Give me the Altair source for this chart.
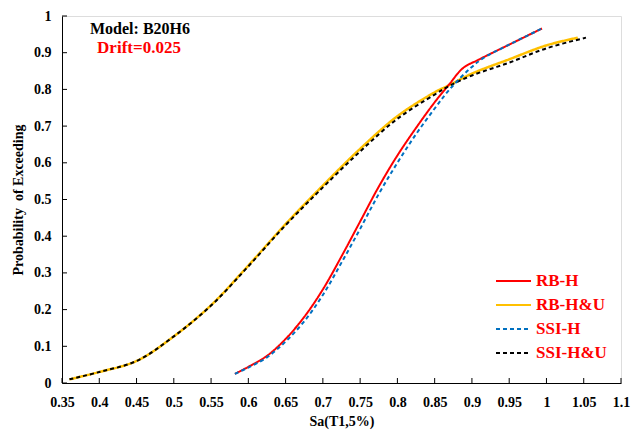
import altair as alt
import pandas as pd

series_names = ["RB-H", "RB-H&U", "SSI-H", "SSI-H&U"]
series_colors = ["#FF0000", "#FFC000", "#0070C0", "#000000"]
series_dashes = [[1, 0], [1, 0], [4, 3], [4, 3]]

rbh_x = [0.582, 0.6, 0.625, 0.65, 0.675, 0.7, 0.725, 0.75, 0.775, 0.8, 0.825, 0.85, 0.87, 0.888, 0.91, 0.95, 0.994]
rbh_p = [0.025, 0.044, 0.074, 0.12, 0.18, 0.255, 0.345, 0.44, 0.535, 0.62, 0.695, 0.765, 0.815, 0.858, 0.882, 0.922, 0.966]

ssih_x = [0.582, 0.6, 0.625, 0.65, 0.675, 0.7, 0.725, 0.75, 0.775, 0.8, 0.825, 0.85, 0.87, 0.897, 0.915, 0.95, 0.994]
ssih_p = [0.025, 0.042, 0.07, 0.113, 0.168, 0.24, 0.328, 0.42, 0.515, 0.60, 0.678, 0.748, 0.80, 0.856, 0.885, 0.922, 0.966]

rbhu_x = [0.36, 0.4, 0.45, 0.5, 0.55, 0.6, 0.65, 0.7, 0.75, 0.8, 0.85, 0.87, 0.9, 0.95, 1.0, 1.042]
rbhu_p = [0.01, 0.03, 0.06, 0.127, 0.212, 0.32, 0.433, 0.538, 0.638, 0.727, 0.792, 0.812, 0.843, 0.882, 0.92, 0.941]

ssihu_x = [0.36, 0.4, 0.45, 0.5, 0.55, 0.6, 0.65, 0.7, 0.75, 0.8, 0.85, 0.87, 0.9, 0.95, 1.0, 1.053]
ssihu_p = [0.01, 0.03, 0.06, 0.127, 0.211, 0.318, 0.43, 0.533, 0.631, 0.72, 0.786, 0.81, 0.838, 0.873, 0.912, 0.941]

x_ticks = [0.35, 0.4, 0.45, 0.5, 0.55, 0.6, 0.65, 0.7, 0.75, 0.8, 0.85, 0.9, 0.95, 1.0, 1.05, 1.1]
y_ticks = [0, 0.1, 0.2, 0.3, 0.4, 0.5, 0.6, 0.7, 0.8, 0.9, 1.0]

model_title = "Model: B20H6"
drift_label = "Drift=0.025"
x_title = "Sa(T1,5%)"
y_title = "Probability\u00a0\u00a0of Exceeding"

FONT = "Liberation Serif"

rows = []
for name, xs, ps in [("RB-H", rbh_x, rbh_p), ("RB-H&U", rbhu_x, rbhu_p),
                     ("SSI-H", ssih_x, ssih_p), ("SSI-H&U", ssihu_x, ssihu_p)]:
    for i, (a, b) in enumerate(zip(xs, ps)):
        rows.append({"series": name, "sa": a, "p": b, "i": i})
df = pd.DataFrame(rows)

xscale = alt.Scale(domain=[0.35, 1.1], nice=False, zero=False)
yscale = alt.Scale(domain=[0, 1], nice=False)
xaxis = alt.Axis(title=x_title, values=x_ticks, format="~g", ticks=False,
                 grid=False, domainColor="#000000", labelFont=FONT,
                 labelFontSize=14, labelFontWeight="bold", labelColor="#000000",
                 labelPadding=12, titleFont=FONT, titleFontSize=14,
                 titleFontWeight="bold", titleColor="#000000", titlePadding=5,
                 labelFlush=False)
yaxis = alt.Axis(title=y_title, values=y_ticks, format="~g", ticks=False,
                 grid=False, domainColor="#000000", labelFont=FONT,
                 labelFontSize=14, labelFontWeight="bold", labelColor="#000000",
                 labelPadding=11, titleFont=FONT, titleFontSize=14,
                 titleFontWeight="bold", titleColor="#000000", titlePadding=8)
color = alt.Color("series:N", scale=alt.Scale(domain=series_names, range=series_colors),
                  legend=alt.Legend(title=None, orient="none", legendX=433, legendY=254,
                                    symbolType="M-1,0L2.5,0", symbolSize=400, symbolStrokeWidth=2,
                                    labelFont=FONT, labelFontSize=17, labelFontWeight="bold",
                                    labelColor="#FF0000", labelOffset=19, rowPadding=5))
dash = alt.StrokeDash("series:N", scale=alt.Scale(domain=series_names, range=series_dashes),
                      legend=None)

def line_layer(name, width):
    return alt.Chart(df).transform_filter(alt.datum.series == name).mark_line(
        interpolate="catmull-rom", strokeWidth=width
    ).encode(
        x=alt.X("sa:Q", scale=xscale, axis=xaxis),
        y=alt.Y("p:Q", scale=yscale, axis=yaxis),
        color=color,
        strokeDash=dash,
        order="i:Q",
    )

xt = alt.Chart(pd.DataFrame({"t": x_ticks})).mark_rule(color="#000000", strokeWidth=1).encode(
    x=alt.X("t:Q", scale=xscale, axis=xaxis), y=alt.value(367), y2=alt.value(362))
yt = alt.Chart(pd.DataFrame({"t": y_ticks})).mark_rule(color="#000000", strokeWidth=1).encode(
    y=alt.Y("t:Q", scale=yscale, axis=yaxis), x=alt.value(0), x2=alt.value(5))

t1 = alt.Chart(pd.DataFrame({"s": [model_title]})).mark_text(
    font=FONT, fontSize=16, fontWeight="bold", color="#000000", align="center", baseline="middle"
).encode(text="s:N", x=alt.value(78), y=alt.value(13))
t2 = alt.Chart(pd.DataFrame({"s": [drift_label]})).mark_text(
    font=FONT, fontSize=17, fontWeight="bold", color="#FF0000", align="center", baseline="middle"
).encode(text="s:N", x=alt.value(77), y=alt.value(32))

chart = alt.layer(
    line_layer("RB-H&U", 2.5),
    line_layer("RB-H", 2),
    line_layer("SSI-H&U", 2),
    line_layer("SSI-H", 2),
    xt, yt, t1, t2,
).properties(
    width=559, height=367,
    padding={"left": 62, "top": 16, "right": 12, "bottom": 47},
    autosize="none",
).configure_view(stroke=None).configure(background="#FFFFFF")

chart.save("out.html", embed_options={"renderer": "svg", "actions": False})
